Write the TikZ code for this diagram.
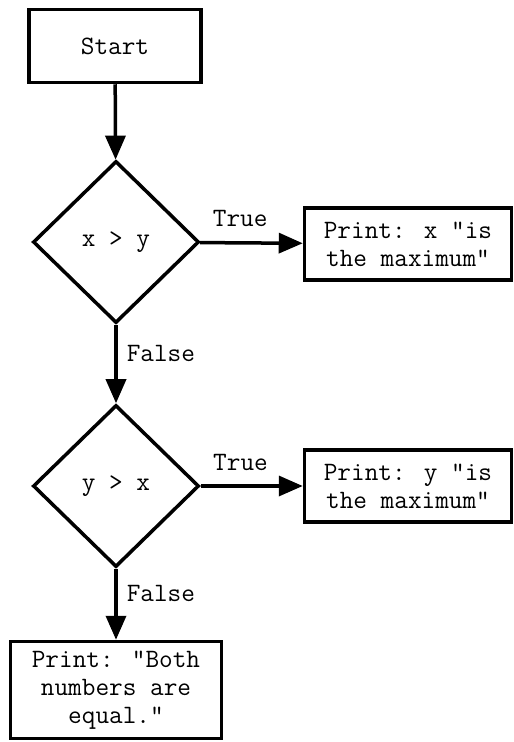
\documentclass[tikz,border=0pt]{standalone}
\usetikzlibrary{shapes.geometric,arrows.meta}
\newcommand{\chartfont}{\fontsize{26.5}{28}\selectfont\ttfamily}
\tikzset{
  box/.style={draw, line width=3.5pt, font=\chartfont, align=center, inner sep=0pt},
  decision/.style={diamond, draw, line width=3.5pt, font=\chartfont, inner sep=0pt,
    minimum width=166pt, minimum height=162pt},
  flow/.style={->, line width=3.5pt},
  lbl/.style={font=\chartfont, inner sep=0pt}
}

\begin{document}
\begin{tikzpicture}[x=1pt,y=-1pt,>={Triangle[length=24pt,width=20pt]}]
   \useasboundingbox (0,0) rectangle (514,742);
   \node[box,minimum width=172pt,minimum height=73pt] (start) at (115, 46) {Start};
   \node[decision] (xgty) at (116,242) {x > y};
   \node[box,minimum width=207pt,minimum height=72pt] (xmax) at (408,244)
    {Print: x "is\\the maximum"};
   \node[decision] (ygtx) at (116,486) {y > x};
   \node[box,minimum width=207pt,minimum height=72pt] (ymax) at (408,486)
    {Print: y "is\\the maximum"};
   \node[box,minimum width=211pt,minimum height=97pt] (equal) at (116,690)
    {Print: "Both\\numbers are\\equal."};
   \draw[flow] (start) -- (xgty);
   \draw[flow] (xgty) -- node[lbl,above=14pt,pos=0.39] {True} (xmax);
   \draw[flow] (xgty) -- node[lbl,right=9pt,pos=0.37] {False} (ygtx);
   \draw[flow] (ygtx) -- node[lbl,above=14pt,pos=0.39] {True} (ymax);
   \draw[flow] (ygtx) -- node[lbl,right=9pt,pos=0.35] {False} (equal);
\end{tikzpicture}
\end{document}
